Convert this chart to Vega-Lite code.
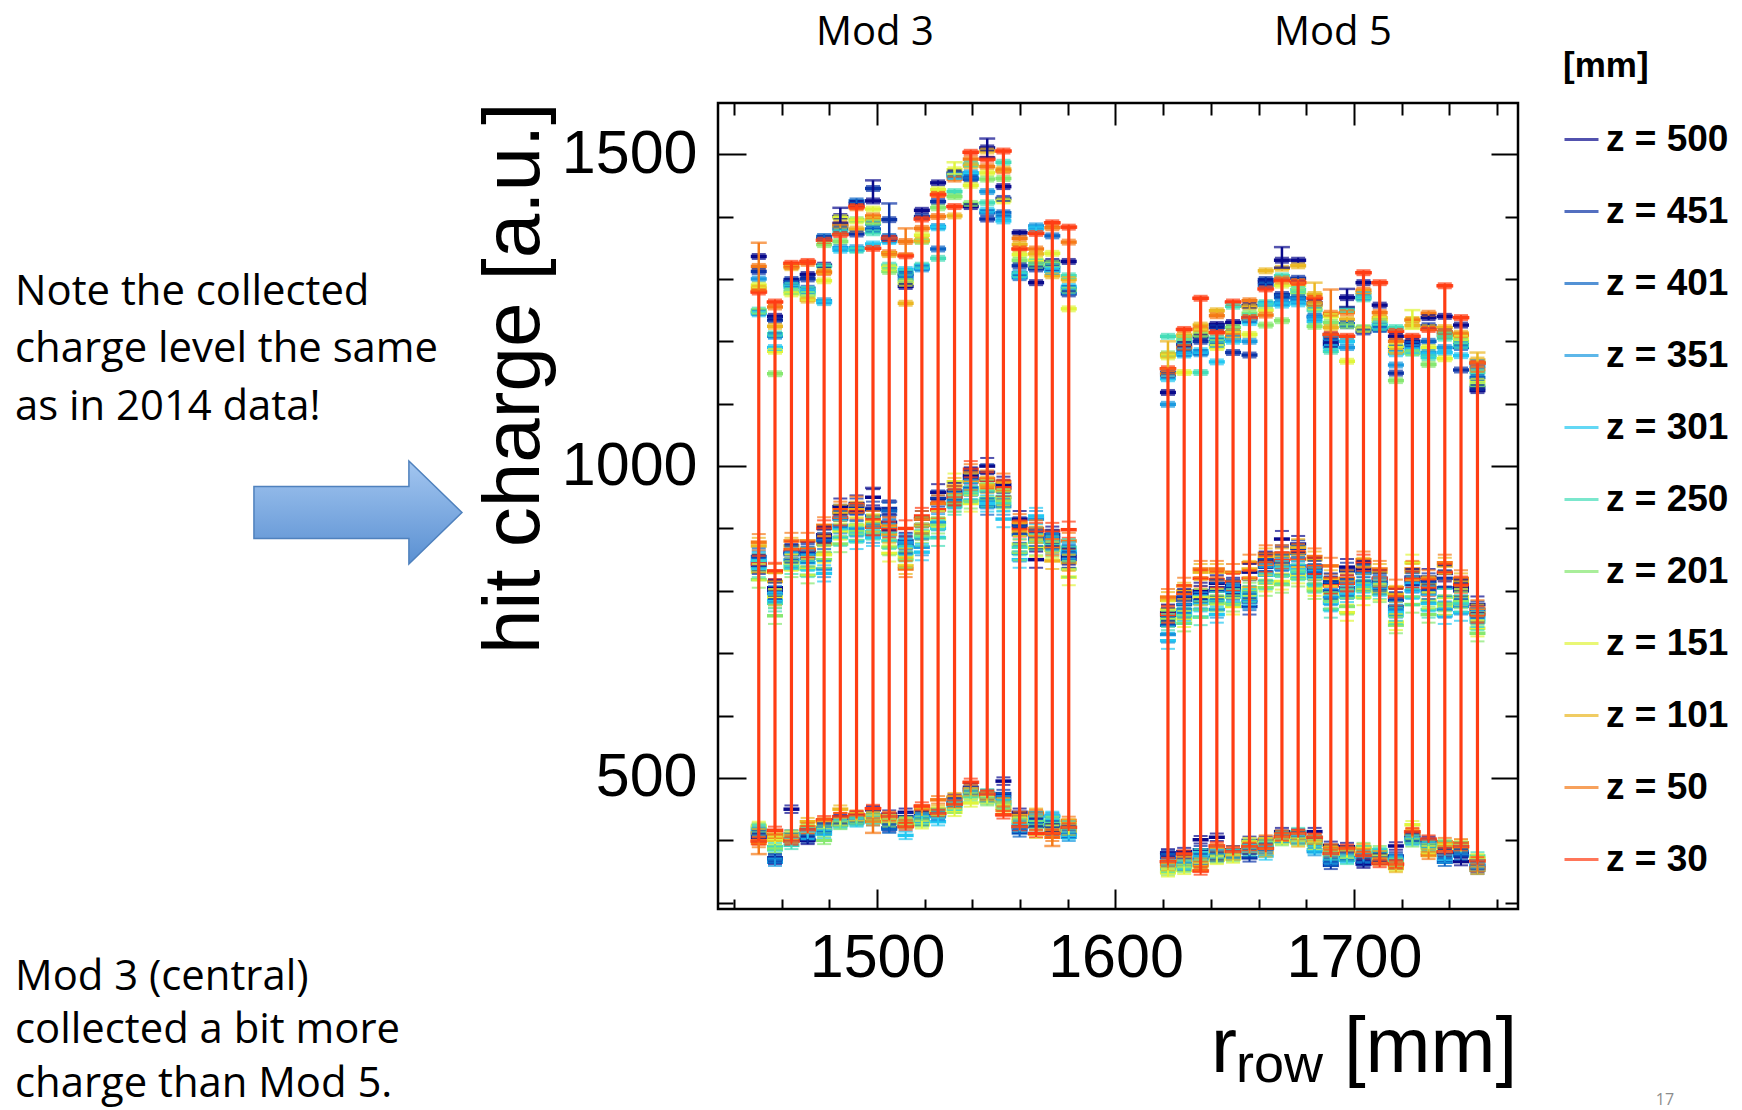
{
  "$schema": "https://vega.github.io/schema/vega-lite/v6.json",
  "width": 800,
  "height": 806,
  "autosize": {"type": "none"},
  "padding": {"left": 718, "top": 103, "right": 224, "bottom": 201},
  "background": "white",
  "config": {
    "view": {"stroke": "black", "strokeWidth": 2.5},
    "axis": {"grid": false, "domain": false, "tickColor": "black", "tickWidth": 2, "labelColor": "black", "labelFont": "Liberation Sans"}
  },
  "datasets": {
    "main": [
      {"x":1450.4,"e":4,"z500":1336,"z451":1312,"z401":1246,"z351":1300,"z301":1244,"z250":1250,"z201":1248,"z151":1290,"z101":1285,"z50":1320,"z30":1279},
      {"x":1457.2,"e":4,"z500":1240,"z451":1234,"z401":1210,"z351":1208,"z301":1190,"z250":1212,"z201":1148,"z151":1184,"z101":1224,"z50":1255,"z30":1263},
      {"x":1464.1,"e":4,"z500":1296,"z451":1299,"z401":1292,"z351":1290,"z301":1286,"z250":1289,"z201":1280,"z151":1276,"z101":1318,"z50":1320,"z30":1325},
      {"x":1470.9,"e":4,"z500":1307,"z451":1300,"z401":1285,"z351":1280,"z301":1278,"z250":1283,"z201":1275,"z151":1270,"z101":1266,"z50":1325,"z30":1328},
      {"x":1477.8,"e":4,"z500":1322,"z451":1365,"z401":1368,"z351":1265,"z301":1262,"z250":1320,"z201":1355,"z151":1297,"z101":1312,"z50":1310,"z30":1362},
      {"x":1484.6,"e":4,"z500":1400,"z451":1385,"z401":1380,"z351":1350,"z301":1346,"z250":1375,"z201":1360,"z151":1398,"z101":1385,"z50":1388,"z30":1371},
      {"x":1491.4,"e":4,"z500":1421,"z451":1372,"z401":1425,"z351":1350,"z301":1347,"z250":1346,"z201":1395,"z151":1393,"z101":1380,"z50":1414,"z30":1416},
      {"x":1498.3,"e":4,"z500":1425,"z451":1445,"z401":1380,"z351":1388,"z301":1356,"z250":1374,"z201":1390,"z151":1412,"z101":1395,"z50":1401,"z30":1349},
      {"x":1505.1,"e":4,"z500":1365,"z451":1395,"z401":1368,"z351":1362,"z301":1360,"z250":1322,"z201":1312,"z151":1318,"z101":1339,"z50":1342,"z30":1365},
      {"x":1512.0,"e":4,"z500":1288,"z451":1308,"z401":1305,"z351":1300,"z301":1315,"z250":1310,"z201":1296,"z151":1293,"z101":1261,"z50":1360,"z30":1337},
      {"x":1518.8,"e":4,"z500":1410,"z451":1400,"z401":1318,"z351":1316,"z301":1320,"z250":1322,"z201":1360,"z151":1370,"z101":1362,"z50":1381,"z30":1396},
      {"x":1525.6,"e":4,"z500":1454,"z451":1424,"z401":1348,"z351":1384,"z301":1382,"z250":1333,"z201":1414,"z151":1443,"z101":1436,"z50":1400,"z30":1435},
      {"x":1532.5,"e":4,"z500":1470,"z451":1468,"z401":1466,"z351":1465,"z301":1464,"z250":1440,"z201":1432,"z151":1475,"z101":1401,"z50":1460,"z30":1416},
      {"x":1539.3,"e":4,"z500":1416,"z451":1460,"z401":1462,"z351":1470,"z301":1468,"z250":1484,"z201":1421,"z151":1450,"z101":1481,"z50":1492,"z30":1503},
      {"x":1546.2,"e":4,"z500":1510,"z451":1396,"z401":1406,"z351":1440,"z301":1410,"z250":1422,"z201":1460,"z151":1470,"z101":1505,"z50":1480,"z30":1492},
      {"x":1553.0,"e":4,"z500":1448,"z451":1429,"z401":1406,"z351":1400,"z301":1393,"z250":1487,"z201":1461,"z151":1425,"z101":1476,"z50":1473,"z30":1505},
      {"x":1559.8,"e":4,"z500":1374,"z451":1321,"z401":1302,"z351":1310,"z301":1305,"z250":1307,"z201":1330,"z151":1339,"z101":1355,"z50":1365,"z30":1348},
      {"x":1566.7,"e":4,"z500":1294,"z451":1316,"z401":1322,"z351":1385,"z301":1380,"z250":1328,"z201":1322,"z151":1330,"z101":1340,"z50":1348,"z30":1373},
      {"x":1573.5,"e":4,"z500":1328,"z451":1318,"z401":1369,"z351":1312,"z301":1313,"z250":1320,"z201":1325,"z151":1341,"z101":1305,"z50":1382,"z30":1390},
      {"x":1580.4,"e":4,"z500":1328,"z451":1276,"z401":1285,"z351":1280,"z301":1288,"z250":1305,"z201":1282,"z151":1252,"z101":1299,"z50":1359,"z30":1383},

      {"x":1450.4,"e":13,"z500":845,"z451":840,"z401":855,"z351":850,"z301":848,"z250":835,"z201":818,"z151":830,"z101":872,"z50":878,"z30":843},
      {"x":1457.2,"e":13,"z500":805,"z451":800,"z401":790,"z351":795,"z301":785,"z250":780,"z201":760,"z151":790,"z101":815,"z50":830,"z30":832},
      {"x":1464.1,"e":13,"z500":862,"z451":860,"z401":858,"z351":850,"z301":848,"z250":840,"z201":835,"z151":845,"z101":872,"z50":880,"z30":866},
      {"x":1470.9,"e":13,"z500":865,"z451":862,"z401":858,"z351":852,"z301":845,"z250":835,"z201":825,"z151":838,"z101":868,"z50":880,"z30":866},
      {"x":1477.8,"e":13,"z500":890,"z451":885,"z401":880,"z351":835,"z301":828,"z250":860,"z201":850,"z151":858,"z101":875,"z50":905,"z30":900},
      {"x":1484.6,"e":13,"z500":935,"z451":925,"z401":915,"z351":905,"z301":900,"z250":885,"z201":875,"z151":895,"z101":925,"z50":930,"z30":918},
      {"x":1491.4,"e":13,"z500":940,"z451":935,"z401":925,"z351":900,"z301":880,"z250":890,"z201":895,"z151":905,"z101":930,"z50":938,"z30":927},
      {"x":1498.3,"e":13,"z500":950,"z451":930,"z401":920,"z351":890,"z301":885,"z250":895,"z201":905,"z151":910,"z101":908,"z50":915,"z30":902},
      {"x":1505.1,"e":13,"z500":910,"z451":932,"z401":928,"z351":900,"z301":895,"z250":880,"z201":870,"z151":860,"z101":890,"z50":905,"z30":898},
      {"x":1512.0,"e":13,"z500":880,"z451":875,"z401":872,"z351":878,"z301":870,"z250":860,"z201":850,"z151":855,"z101":840,"z50":835,"z30":900},
      {"x":1518.8,"e":13,"z500":915,"z451":905,"z401":895,"z351":870,"z301":862,"z250":885,"z201":890,"z151":895,"z101":905,"z50":915,"z30":920},
      {"x":1525.6,"e":13,"z500":958,"z451":948,"z401":940,"z351":910,"z301":900,"z250":885,"z201":905,"z151":915,"z101":930,"z50":940,"z30":930},
      {"x":1532.5,"e":13,"z500":960,"z451":955,"z401":950,"z351":945,"z301":940,"z250":935,"z201":940,"z151":975,"z101":968,"z50":955,"z30":950},
      {"x":1539.3,"e":13,"z500":985,"z451":980,"z401":975,"z351":965,"z301":960,"z250":955,"z201":945,"z151":940,"z101":975,"z50":990,"z30":995},
      {"x":1546.2,"e":13,"z500":1000,"z451":990,"z401":935,"z351":945,"z301":940,"z250":948,"z201":960,"z151":965,"z101":970,"z50":980,"z30":977},
      {"x":1553.0,"e":13,"z500":970,"z451":965,"z401":950,"z351":935,"z301":915,"z250":940,"z201":945,"z151":950,"z101":960,"z50":975,"z30":965},
      {"x":1559.8,"e":13,"z500":915,"z451":905,"z401":890,"z351":860,"z301":850,"z250":870,"z201":862,"z151":875,"z101":895,"z50":910,"z30":900},
      {"x":1566.7,"e":13,"z500":850,"z451":880,"z401":885,"z351":915,"z301":920,"z250":878,"z201":870,"z151":868,"z101":890,"z50":900,"z30":896},
      {"x":1573.5,"e":13,"z500":890,"z451":885,"z401":880,"z351":878,"z301":872,"z250":875,"z201":868,"z151":865,"z101":848,"z50":870,"z30":896},
      {"x":1580.4,"e":13,"z500":855,"z451":850,"z401":860,"z351":862,"z301":865,"z250":870,"z201":835,"z151":822,"z101":845,"z50":880,"z30":898},

      {"x":1450.4,"e":6,"z500":405,"z451":410,"z401":412,"z351":415,"z301":418,"z250":420,"z201":422,"z151":424,"z101":412,"z50":395,"z30":399},
      {"x":1457.2,"e":6,"z500":368,"z451":372,"z401":370,"z351":365,"z301":385,"z250":390,"z201":386,"z151":400,"z101":405,"z50":410,"z30":416},
      {"x":1464.1,"e":6,"z500":450,"z451":410,"z401":405,"z351":402,"z301":398,"z250":392,"z201":410,"z151":408,"z101":403,"z50":402,"z30":399},
      {"x":1470.9,"e":6,"z500":400,"z451":402,"z401":412,"z351":410,"z301":408,"z250":415,"z201":420,"z151":418,"z101":430,"z50":422,"z30":417},
      {"x":1477.8,"e":6,"z500":418,"z451":420,"z401":422,"z351":415,"z301":410,"z250":418,"z201":400,"z151":425,"z101":428,"z50":430,"z30":433},
      {"x":1484.6,"e":6,"z500":435,"z451":432,"z401":430,"z351":428,"z301":425,"z250":427,"z201":424,"z151":430,"z101":450,"z50":438,"z30":438},
      {"x":1491.4,"e":6,"z500":440,"z451":436,"z401":432,"z351":430,"z301":428,"z250":430,"z201":433,"z151":438,"z101":438,"z50":442,"z30":441},
      {"x":1498.3,"e":6,"z500":449,"z451":440,"z401":436,"z351":434,"z301":430,"z250":432,"z201":438,"z151":435,"z101":440,"z50":430,"z30":451},
      {"x":1505.1,"e":6,"z500":442,"z451":420,"z401":418,"z351":430,"z301":435,"z250":432,"z201":428,"z151":430,"z101":435,"z50":440,"z30":438},
      {"x":1512.0,"e":6,"z500":445,"z451":438,"z401":430,"z351":425,"z301":408,"z250":428,"z201":432,"z151":430,"z101":425,"z50":427,"z30":422},
      {"x":1518.8,"e":6,"z500":440,"z451":436,"z401":430,"z351":438,"z301":435,"z250":432,"z201":428,"z151":425,"z101":445,"z50":450,"z30":455},
      {"x":1525.6,"e":6,"z500":445,"z451":443,"z401":440,"z351":438,"z301":430,"z250":442,"z201":445,"z151":447,"z101":450,"z50":465,"z30":443},
      {"x":1532.5,"e":6,"z500":468,"z451":462,"z401":460,"z351":458,"z301":455,"z250":455,"z201":450,"z151":445,"z101":470,"z50":466,"z30":458},
      {"x":1539.3,"e":6,"z500":485,"z451":480,"z401":482,"z351":478,"z301":472,"z250":475,"z201":470,"z151":460,"z101":478,"z50":483,"z30":493},
      {"x":1546.2,"e":6,"z500":475,"z451":470,"z401":472,"z351":468,"z301":464,"z250":476,"z201":462,"z151":465,"z101":470,"z50":473,"z30":474},
      {"x":1553.0,"e":6,"z500":495,"z451":475,"z401":470,"z351":465,"z301":460,"z250":458,"z201":455,"z151":452,"z101":462,"z50":448,"z30":441},
      {"x":1559.8,"e":6,"z500":445,"z451":418,"z401":412,"z351":425,"z301":420,"z250":428,"z201":430,"z151":432,"z101":435,"z50":440,"z30":422},
      {"x":1566.7,"e":6,"z500":430,"z451":428,"z401":422,"z351":440,"z301":436,"z250":432,"z201":425,"z151":410,"z101":445,"z50":443,"z30":411},
      {"x":1573.5,"e":6,"z500":420,"z451":415,"z401":425,"z351":438,"z301":440,"z250":430,"z201":432,"z151":418,"z101":412,"z50":405,"z30":411},
      {"x":1580.4,"e":6,"z500":415,"z451":418,"z401":410,"z351":405,"z301":408,"z250":425,"z201":420,"z151":415,"z101":428,"z50":432,"z30":421},

      {"x":1622.0,"e":4,"z500":1118,"z451":1146,"z401":1150,"z351":1099,"z301":1140,"z250":1208,"z201":1180,"z151":1175,"z101":1178,"z50":1148,"z30":1156},
      {"x":1628.8,"e":4,"z500":1195,"z451":1190,"z401":1180,"z351":1185,"z301":1178,"z250":1200,"z201":1205,"z151":1150,"z101":1210,"z50":1190,"z30":1219},
      {"x":1635.7,"e":4,"z500":1207,"z451":1200,"z401":1182,"z351":1180,"z301":1185,"z250":1150,"z201":1210,"z151":1215,"z101":1226,"z50":1220,"z30":1269},
      {"x":1642.5,"e":4,"z500":1227,"z451":1222,"z401":1200,"z351":1195,"z301":1167,"z250":1205,"z201":1198,"z151":1190,"z101":1249,"z50":1241,"z30":1214},
      {"x":1649.3,"e":4,"z500":1230,"z451":1182,"z401":1215,"z351":1205,"z301":1200,"z250":1256,"z201":1222,"z151":1210,"z101":1215,"z50":1208,"z30":1263},
      {"x":1656.2,"e":4,"z500":1257,"z451":1178,"z401":1235,"z351":1200,"z301":1230,"z250":1240,"z201":1245,"z151":1211,"z101":1255,"z50":1265,"z30":1238},
      {"x":1663.0,"e":4,"z500":1295,"z451":1299,"z401":1290,"z351":1260,"z301":1258,"z250":1262,"z201":1226,"z151":1250,"z101":1313,"z50":1242,"z30":1284},
      {"x":1669.8,"e":4,"z500":1330,"z451":1275,"z401":1270,"z351":1262,"z301":1258,"z250":1305,"z201":1233,"z151":1290,"z101":1317,"z50":1300,"z30":1297},
      {"x":1676.6,"e":4,"z500":1330,"z451":1301,"z401":1270,"z351":1265,"z301":1260,"z250":1283,"z201":1278,"z151":1290,"z101":1321,"z50":1296,"z30":1294},
      {"x":1683.5,"e":4,"z500":1262,"z451":1258,"z401":1240,"z351":1238,"z301":1232,"z250":1250,"z201":1224,"z151":1255,"z101":1275,"z50":1260,"z30":1269},
      {"x":1690.3,"e":4,"z500":1195,"z451":1200,"z401":1210,"z351":1205,"z301":1190,"z250":1184,"z201":1230,"z151":1240,"z101":1222,"z50":1245,"z30":1211},
      {"x":1697.1,"e":4,"z500":1270,"z451":1225,"z401":1228,"z351":1190,"z301":1200,"z250":1251,"z201":1225,"z151":1168,"z101":1235,"z50":1246,"z30":1208},
      {"x":1704.0,"e":4,"z500":1294,"z451":1215,"z401":1220,"z351":1270,"z301":1275,"z250":1268,"z201":1222,"z151":1219,"z101":1278,"z50":1282,"z30":1310},
      {"x":1710.8,"e":4,"z500":1258,"z451":1220,"z401":1219,"z351":1225,"z301":1228,"z250":1222,"z201":1232,"z151":1235,"z101":1238,"z50":1246,"z30":1294},
      {"x":1717.6,"e":4,"z500":1208,"z451":1149,"z401":1190,"z351":1162,"z301":1180,"z250":1222,"z201":1137,"z151":1192,"z101":1184,"z50":1200,"z30":1216},
      {"x":1724.5,"e":4,"z500":1200,"z451":1196,"z401":1195,"z351":1190,"z301":1185,"z250":1181,"z201":1182,"z151":1235,"z101":1225,"z50":1234,"z30":1208},
      {"x":1731.3,"e":4,"z500":1238,"z451":1225,"z401":1200,"z351":1182,"z301":1178,"z250":1174,"z201":1163,"z151":1190,"z101":1222,"z50":1245,"z30":1219},
      {"x":1738.1,"e":4,"z500":1240,"z451":1215,"z401":1210,"z351":1190,"z301":1182,"z250":1205,"z201":1210,"z151":1172,"z101":1222,"z50":1215,"z30":1289},
      {"x":1744.9,"e":4,"z500":1226,"z451":1154,"z401":1190,"z351":1195,"z301":1177,"z250":1193,"z201":1200,"z151":1205,"z101":1213,"z50":1210,"z30":1238},
      {"x":1751.8,"e":4,"z500":1121,"z451":1126,"z401":1142,"z351":1160,"z301":1166,"z250":1150,"z201":1130,"z151":1136,"z101":1170,"z50":1155,"z30":1165},

      {"x":1622.0,"e":13,"z500":765,"z451":760,"z401":745,"z351":730,"z301":720,"z250":750,"z201":755,"z151":770,"z101":785,"z50":790,"z30":762},
      {"x":1628.8,"e":13,"z500":790,"z451":785,"z401":778,"z351":770,"z301":765,"z250":760,"z201":748,"z151":755,"z101":800,"z50":808,"z30":796},
      {"x":1635.7,"e":13,"z500":800,"z451":795,"z401":790,"z351":785,"z301":780,"z250":758,"z201":770,"z151":790,"z101":830,"z50":835,"z30":820},
      {"x":1642.5,"e":13,"z500":812,"z451":805,"z401":800,"z351":770,"z301":762,"z250":785,"z201":780,"z151":790,"z101":830,"z50":835,"z30":818},
      {"x":1649.3,"e":13,"z500":808,"z451":805,"z401":800,"z351":798,"z301":795,"z250":790,"z201":780,"z151":775,"z101":815,"z50":830,"z30":814},
      {"x":1656.2,"e":13,"z500":830,"z451":775,"z401":782,"z351":785,"z301":790,"z250":795,"z201":800,"z151":805,"z101":835,"z50":845,"z30":820},
      {"x":1663.0,"e":13,"z500":850,"z451":845,"z401":838,"z351":830,"z301":825,"z250":815,"z201":805,"z151":812,"z101":855,"z50":860,"z30":843},
      {"x":1669.8,"e":13,"z500":883,"z451":860,"z401":845,"z351":840,"z301":835,"z250":825,"z201":810,"z151":815,"z101":855,"z50":860,"z30":849},
      {"x":1676.6,"e":13,"z500":875,"z451":868,"z401":860,"z351":840,"z301":835,"z250":830,"z201":820,"z151":825,"z101":870,"z50":862,"z30":851},
      {"x":1683.5,"e":13,"z500":840,"z451":835,"z401":830,"z351":825,"z301":820,"z250":810,"z201":800,"z151":805,"z101":850,"z50":855,"z30":840},
      {"x":1690.3,"e":13,"z500":810,"z451":815,"z401":800,"z351":790,"z301":780,"z250":770,"z201":785,"z151":795,"z101":820,"z50":840,"z30":808},
      {"x":1697.1,"e":13,"z500":838,"z451":832,"z401":805,"z351":800,"z301":795,"z250":790,"z201":775,"z151":765,"z101":815,"z50":820,"z30":812},
      {"x":1704.0,"e":13,"z500":835,"z451":830,"z401":828,"z351":815,"z301":810,"z250":805,"z201":800,"z151":790,"z101":840,"z50":850,"z30":845},
      {"x":1710.8,"e":13,"z500":820,"z451":815,"z401":812,"z351":808,"z301":805,"z250":800,"z201":795,"z151":798,"z101":830,"z50":835,"z30":820},
      {"x":1717.6,"e":13,"z500":790,"z451":785,"z401":775,"z351":770,"z301":765,"z250":760,"z201":745,"z151":750,"z101":795,"z50":805,"z30":790},
      {"x":1724.5,"e":13,"z500":822,"z451":818,"z401":815,"z351":810,"z301":800,"z250":790,"z201":778,"z151":845,"z101":830,"z50":835,"z30":818},
      {"x":1731.3,"e":13,"z500":822,"z451":815,"z401":800,"z351":795,"z301":780,"z250":770,"z201":762,"z151":785,"z101":810,"z50":820,"z30":805},
      {"x":1738.1,"e":13,"z500":828,"z451":820,"z401":805,"z351":770,"z301":760,"z250":790,"z201":780,"z151":775,"z101":840,"z50":845,"z30":830},
      {"x":1744.9,"e":13,"z500":805,"z451":800,"z401":790,"z351":775,"z301":765,"z250":780,"z201":785,"z151":790,"z101":815,"z50":820,"z30":810},
      {"x":1751.8,"e":13,"z500":778,"z451":770,"z401":765,"z351":760,"z301":755,"z250":750,"z201":732,"z151":740,"z101":765,"z50":772,"z30":762},

      {"x":1622.0,"e":6,"z500":380,"z451":378,"z401":372,"z351":365,"z301":360,"z250":355,"z201":350,"z151":348,"z101":358,"z50":362,"z30":366},
      {"x":1628.8,"e":6,"z500":382,"z451":370,"z401":365,"z351":358,"z301":360,"z250":362,"z201":355,"z151":352,"z101":368,"z50":372,"z30":378},
      {"x":1635.7,"e":6,"z500":401,"z451":385,"z401":372,"z351":368,"z301":375,"z250":380,"z201":362,"z151":358,"z101":365,"z50":360,"z30":351},
      {"x":1642.5,"e":6,"z500":405,"z451":375,"z401":372,"z351":378,"z301":380,"z250":385,"z201":370,"z151":368,"z101":382,"z50":388,"z30":391},
      {"x":1649.3,"e":6,"z500":385,"z451":380,"z401":378,"z351":376,"z301":374,"z250":380,"z201":372,"z151":370,"z101":375,"z50":384,"z30":382},
      {"x":1656.2,"e":6,"z500":400,"z451":372,"z401":380,"z351":385,"z301":388,"z250":382,"z201":395,"z151":398,"z101":392,"z50":385,"z30":390},
      {"x":1663.0,"e":6,"z500":400,"z451":395,"z401":390,"z351":385,"z301":375,"z250":392,"z201":395,"z151":398,"z101":380,"z50":402,"z30":387},
      {"x":1669.8,"e":6,"z500":414,"z451":410,"z401":405,"z351":402,"z301":400,"z250":408,"z201":398,"z151":400,"z101":405,"z50":410,"z30":406},
      {"x":1676.6,"e":6,"z500":412,"z451":408,"z401":405,"z351":400,"z301":403,"z250":414,"z201":398,"z151":405,"z101":396,"z50":410,"z30":411},
      {"x":1683.5,"e":6,"z500":414,"z451":400,"z401":398,"z351":382,"z301":385,"z250":402,"z201":395,"z151":392,"z101":400,"z50":404,"z30":405},
      {"x":1690.3,"e":6,"z500":392,"z451":360,"z401":365,"z351":368,"z301":372,"z250":375,"z201":378,"z151":380,"z101":385,"z50":388,"z30":379},
      {"x":1697.1,"e":6,"z500":390,"z451":385,"z401":375,"z351":372,"z301":370,"z250":368,"z201":380,"z151":378,"z101":382,"z50":383,"z30":387},
      {"x":1704.0,"e":6,"z500":362,"z451":365,"z401":370,"z351":372,"z301":378,"z250":385,"z201":390,"z151":382,"z101":388,"z50":380,"z30":376},
      {"x":1710.8,"e":6,"z500":372,"z451":368,"z401":375,"z351":378,"z301":380,"z250":382,"z201":385,"z151":370,"z101":377,"z50":366,"z30":363},
      {"x":1717.6,"e":6,"z500":391,"z451":375,"z401":372,"z351":370,"z301":368,"z250":360,"z201":365,"z151":357,"z101":355,"z50":360,"z30":362},
      {"x":1724.5,"e":6,"z500":408,"z451":405,"z401":403,"z351":400,"z301":398,"z250":402,"z201":396,"z151":425,"z101":410,"z50":412,"z30":414},
      {"x":1731.3,"e":6,"z500":400,"z451":396,"z401":392,"z351":395,"z301":390,"z250":393,"z201":388,"z151":385,"z101":380,"z50":376,"z30":402},
      {"x":1738.1,"e":6,"z500":380,"z451":382,"z401":365,"z351":370,"z301":375,"z250":393,"z201":395,"z151":388,"z101":390,"z50":398,"z30":382},
      {"x":1744.9,"e":6,"z500":366,"z451":380,"z401":375,"z351":385,"z301":388,"z250":390,"z201":392,"z151":395,"z101":388,"z50":396,"z30":390},
      {"x":1751.8,"e":6,"z500":360,"z451":355,"z401":352,"z351":358,"z301":362,"z250":375,"z201":370,"z151":372,"z101":352,"z50":356,"z30":367}
    ],
    "bigerr": [
      {"x":1450.4,"z":"z50","lo":1281,"hi":1358},
      {"x":1484.6,"z":"z500","lo":1390,"hi":1414},
      {"x":1498.3,"z":"z500","lo":1425,"hi":1458},
      {"x":1505.1,"z":"z451","lo":1363,"hi":1421},
      {"x":1512.0,"z":"z50","lo":1340,"hi":1381},
      {"x":1532.5,"z":"z151","lo":1468,"hi":1487},
      {"x":1546.2,"z":"z500","lo":1495,"hi":1525},
      {"x":1498.3,"z":"z500","lo":933,"hi":965},
      {"x":1505.1,"z":"z451","lo":922,"hi":943},
      {"x":1450.4,"z":"z50","lo":378,"hi":399},
      {"x":1498.3,"z":"z50","lo":412,"hi":430},
      {"x":1573.5,"z":"z50","lo":391,"hi":411},
      {"x":1622.0,"z":"z101","lo":1156,"hi":1200},
      {"x":1669.8,"z":"z500","lo":1318,"hi":1351},
      {"x":1683.5,"z":"z101","lo":1262,"hi":1294},
      {"x":1690.3,"z":"z50","lo":1211,"hi":1283},
      {"x":1697.1,"z":"z500","lo":1255,"hi":1284},
      {"x":1724.5,"z":"z151","lo":1220,"hi":1250},
      {"x":1751.8,"z":"z101","lo":1165,"hi":1182}
    ]
  },
  "data": {"name": "main"},
  "resolve": {"axis": {"x": "independent", "y": "independent"}},
  "layer": [
    {
      "transform": [{"fold": ["z500","z451","z401","z351","z301","z250","z201","z151","z101","z50","z30"], "as": ["z", "q"]}],
      "mark": {"type": "tick", "orient": "horizontal", "size": 13, "thickness": 0.5, "filled": false, "strokeWidth": 3, "opacity": 1},
      "encoding": {
        "x": {"field": "x", "type": "quantitative", "scale": {"domain": [1433.3, 1768.8], "nice": false, "zero": false},
          "axis": {"orient": "bottom", "values": [1440,1460,1480,1500,1520,1540,1560,1580,1600,1620,1640,1660,1680,1700,1720,1740,1760], "format": "d",
            "labelExpr": "datum.value % 100 === 0 ? datum.label : ''",
            "tickSize": {"condition": {"test": "datum.value % 100 === 0", "value": -20}, "value": -10},
            "labelFontSize": 61, "labelPadding": 39, "labelOverlap": false, "labelFlush": false, "labelBound": false, "title": null}},
        "y": {"field": "q", "type": "quantitative", "scale": {"domain": [290, 1582], "nice": false, "zero": false},
          "axis": {"orient": "left", "values": [300,400,500,600,700,800,900,1000,1100,1200,1300,1400,1500], "format": "d",
            "labelExpr": "datum.value % 500 === 0 ? datum.label : ''",
            "tickSize": {"condition": {"test": "datum.value % 500 === 0", "value": -28}, "value": -15},
            "labelFontSize": 61, "labelPadding": 49, "labelOverlap": false, "labelFlush": false, "labelBound": false,
            "title": "hit charge [a.u.]", "titleFont": "Liberation Sans", "titleFontSize": 80, "titleFontWeight": "normal", "titleColor": "black",
            "titleAngle": 270, "titleAlign": "right", "titleBaseline": "alphabetic", "titleX": -180, "titleY": -1}},
        "color": {"field": "z", "type": "nominal", "scale": {"domain": ["z500","z451","z401","z351","z301","z250","z201","z151","z101","z50","z30"], "range": ["#0a0a8c","#0b33a6","#0b64c4","#1a9ae0","#22c8f2","#44ddb8","#86e870","#e0f53c","#ebb722","#f57a18","#ff3d14"]},
          "legend": {"orient": "none", "legendX": 845, "legendY": -54, "title": "[mm]", "titleFont": "Liberation Sans", "titleFontSize": 35, "titleFontWeight": "bold", "titleColor": "black", "titlePadding": 37,
            "labelFont": "Liberation Sans", "labelFontSize": 37, "labelFontWeight": "bold", "labelColor": "black", "labelOffset": 6,
            "labelExpr": "'z = ' + slice(datum.label, 1)",
            "symbolType": "stroke", "symbolSize": 1156, "symbolStrokeWidth": 3, "symbolOpacity": 1, "rowPadding": 34}}
      }
    },
    {
      "transform": [{"fold": ["z500","z451","z401","z351","z301","z250","z201","z151","z101","z50","z30"], "as": ["z", "q"]}],
      "mark": {"type": "errorbar", "thickness": 2, "ticks": {"size": 14}},
      "encoding": {
        "x": {"field": "x", "type": "quantitative", "scale": {"domain": [1433.3, 1768.8], "nice": false, "zero": false}, "axis": null},
        "y": {"field": "q", "type": "quantitative", "scale": {"domain": [290, 1582], "nice": false, "zero": false}, "axis": null},
        "yError": {"field": "e"},
        "color": {"field": "z", "type": "nominal", "scale": {"domain": ["z500","z451","z401","z351","z301","z250","z201","z151","z101","z50","z30"], "range": ["#0a0a8c","#0b33a6","#0b64c4","#1a9ae0","#22c8f2","#44ddb8","#86e870","#e0f53c","#ebb722","#f57a18","#ff3d14"]}}
      }
    },
    {
      "data": {"name": "bigerr"},
      "mark": {"type": "errorbar", "thickness": 2.5, "ticks": {"size": 16}},
      "encoding": {
        "x": {"field": "x", "type": "quantitative", "scale": {"domain": [1433.3, 1768.8], "nice": false, "zero": false}, "axis": null},
        "y": {"field": "lo", "type": "quantitative", "scale": {"domain": [290, 1582], "nice": false, "zero": false}, "axis": null},
        "y2": {"field": "hi"},
        "color": {"field": "z", "type": "nominal", "scale": {"domain": ["z500","z451","z401","z351","z301","z250","z201","z151","z101","z50","z30"], "range": ["#0a0a8c","#0b33a6","#0b64c4","#1a9ae0","#22c8f2","#44ddb8","#86e870","#e0f53c","#ebb722","#f57a18","#ff3d14"]}}
      }
    },
    {
      "transform": [
        {"fold": ["z500","z451","z401","z351","z301","z250","z201","z151","z101","z50","z30"], "as": ["z", "q"]},
        {"filter": "datum.z === 'z30'"},
        {"aggregate": [{"op": "min", "field": "q", "as": "lo"}, {"op": "max", "field": "q", "as": "hi"}], "groupby": ["x"]}
      ],
      "mark": {"type": "errorbar", "thickness": 3.2, "ticks": {"size": 17}},
      "encoding": {
        "x": {"field": "x", "type": "quantitative", "scale": {"domain": [1433.3, 1768.8], "nice": false, "zero": false}, "axis": null},
        "y": {"field": "lo", "type": "quantitative", "scale": {"domain": [290, 1582], "nice": false, "zero": false}, "axis": null},
        "y2": {"field": "hi"},
        "color": {"value": "#ff3d14"}
      }
    },
    {
      "data": {"values": [{}]},
      "mark": {"type": "point", "shape": "M-1,-0.25L0.49,-0.25L0.49,-0.495L1,0L0.49,0.495L0.49,0.25L-1,0.25Z", "size": 43264, "filled": true, "opacity": 1,
        "fill": {"gradient": "linear", "x1": 0, "y1": 0, "x2": 0, "y2": 1, "stops": [{"offset": 0, "color": "#a3c6f0"}, {"offset": 1, "color": "#5a90d2"}]},
        "stroke": "#4f81bd", "strokeWidth": 1.5},
      "encoding": {
        "x": {"datum": 1282.3, "type": "quantitative", "scale": {"domain": [1433.3, 1768.8], "nice": false, "zero": false},
          "axis": {"orient": "top", "values": [1440,1460,1480,1500,1520,1540,1560,1580,1600,1620,1640,1660,1680,1700,1720,1740,1760], "labels": false, "title": null,
            "tickSize": {"condition": {"test": "datum.value % 100 === 0", "value": -22}, "value": -12}}},
        "y": {"datum": 925.6, "type": "quantitative", "scale": {"domain": [290, 1582], "nice": false, "zero": false},
          "axis": {"orient": "right", "values": [300,400,500,600,700,800,900,1000,1100,1200,1300,1400,1500], "labels": false, "title": null,
            "tickSize": {"condition": {"test": "datum.value % 500 === 0", "value": -27}, "value": -13}}}
      }
    },
    {
      "data": {"values": [{}]},
      "mark": {"type": "text", "text": ["Note the collected", "charge level the same", "as in 2014 data!"], "font": "Open Sans", "fontSize": 41.8, "lineHeight": 57.5, "align": "left", "baseline": "alphabetic", "color": "black"},
      "encoding": {
        "x": {"datum": 1138.5, "type": "quantitative", "scale": {"domain": [1433.3, 1768.8], "nice": false, "zero": false}, "axis": null},
        "y": {"datum": 1258.2, "type": "quantitative", "scale": {"domain": [290, 1582], "nice": false, "zero": false}, "axis": null}
      }
    },
    {
      "data": {"values": [{}]},
      "mark": {"type": "text", "text": ["Mod 3 (central)", "collected a bit more", "charge than Mod 5."], "font": "Open Sans", "fontSize": 41.8, "lineHeight": 53.5, "align": "left", "baseline": "alphabetic", "color": "black"},
      "encoding": {
        "x": {"datum": 1138.5, "type": "quantitative", "scale": {"domain": [1433.3, 1768.8], "nice": false, "zero": false}, "axis": null},
        "y": {"datum": 160.2, "type": "quantitative", "scale": {"domain": [290, 1582], "nice": false, "zero": false}, "axis": null}
      }
    },
    {
      "data": {"values": [{}]},
      "mark": {"type": "text", "text": "Mod 3", "font": "Open Sans", "fontSize": 40, "align": "center", "baseline": "alphabetic", "color": "black"},
      "encoding": {
        "x": {"datum": 1499.1, "type": "quantitative", "scale": {"domain": [1433.3, 1768.8], "nice": false, "zero": false}, "axis": null},
        "y": {"datum": 1675.0, "type": "quantitative", "scale": {"domain": [290, 1582], "nice": false, "zero": false}, "axis": null}
      }
    },
    {
      "data": {"values": [{}]},
      "mark": {"type": "text", "text": "Mod 5", "font": "Open Sans", "fontSize": 40, "align": "center", "baseline": "alphabetic", "color": "black"},
      "encoding": {
        "x": {"datum": 1691.2, "type": "quantitative", "scale": {"domain": [1433.3, 1768.8], "nice": false, "zero": false}, "axis": null},
        "y": {"datum": 1675.0, "type": "quantitative", "scale": {"domain": [290, 1582], "nice": false, "zero": false}, "axis": null}
      }
    },
    {
      "data": {"values": [{}]},
      "mark": {"type": "text", "text": "r", "font": "Liberation Sans", "fontSize": 78, "align": "left", "baseline": "alphabetic", "color": "black"},
      "encoding": {
        "x": {"datum": 1640.1, "type": "quantitative", "scale": {"domain": [1433.3, 1768.8], "nice": false, "zero": false}, "axis": null},
        "y": {"datum": 28.7, "type": "quantitative", "scale": {"domain": [290, 1582], "nice": false, "zero": false}, "axis": null}
      }
    },
    {
      "data": {"values": [{}]},
      "mark": {"type": "text", "text": "row", "font": "Liberation Sans", "fontSize": 54, "align": "left", "baseline": "alphabetic", "color": "black"},
      "encoding": {
        "x": {"datum": 1650.5, "type": "quantitative", "scale": {"domain": [1433.3, 1768.8], "nice": false, "zero": false}, "axis": null},
        "y": {"datum": 12.9, "type": "quantitative", "scale": {"domain": [290, 1582], "nice": false, "zero": false}, "axis": null}
      }
    },
    {
      "data": {"values": [{}]},
      "mark": {"type": "text", "text": "[mm]", "font": "Liberation Sans", "fontSize": 78, "align": "left", "baseline": "alphabetic", "color": "black"},
      "encoding": {
        "x": {"datum": 1695.8, "type": "quantitative", "scale": {"domain": [1433.3, 1768.8], "nice": false, "zero": false}, "axis": null},
        "y": {"datum": 28.7, "type": "quantitative", "scale": {"domain": [290, 1582], "nice": false, "zero": false}, "axis": null}
      }
    },
    {
      "data": {"values": [{}]},
      "mark": {"type": "text", "text": "17", "font": "Open Sans", "fontSize": 16, "align": "center", "baseline": "bottom", "color": "#8c8c8c"},
      "encoding": {
        "x": {"datum": 1830.4, "type": "quantitative", "scale": {"domain": [1433.3, 1768.8], "nice": false, "zero": false}, "axis": null},
        "y": {"datum": -29.0, "type": "quantitative", "scale": {"domain": [290, 1582], "nice": false, "zero": false}, "axis": null}
      }
    }
  ]
}
